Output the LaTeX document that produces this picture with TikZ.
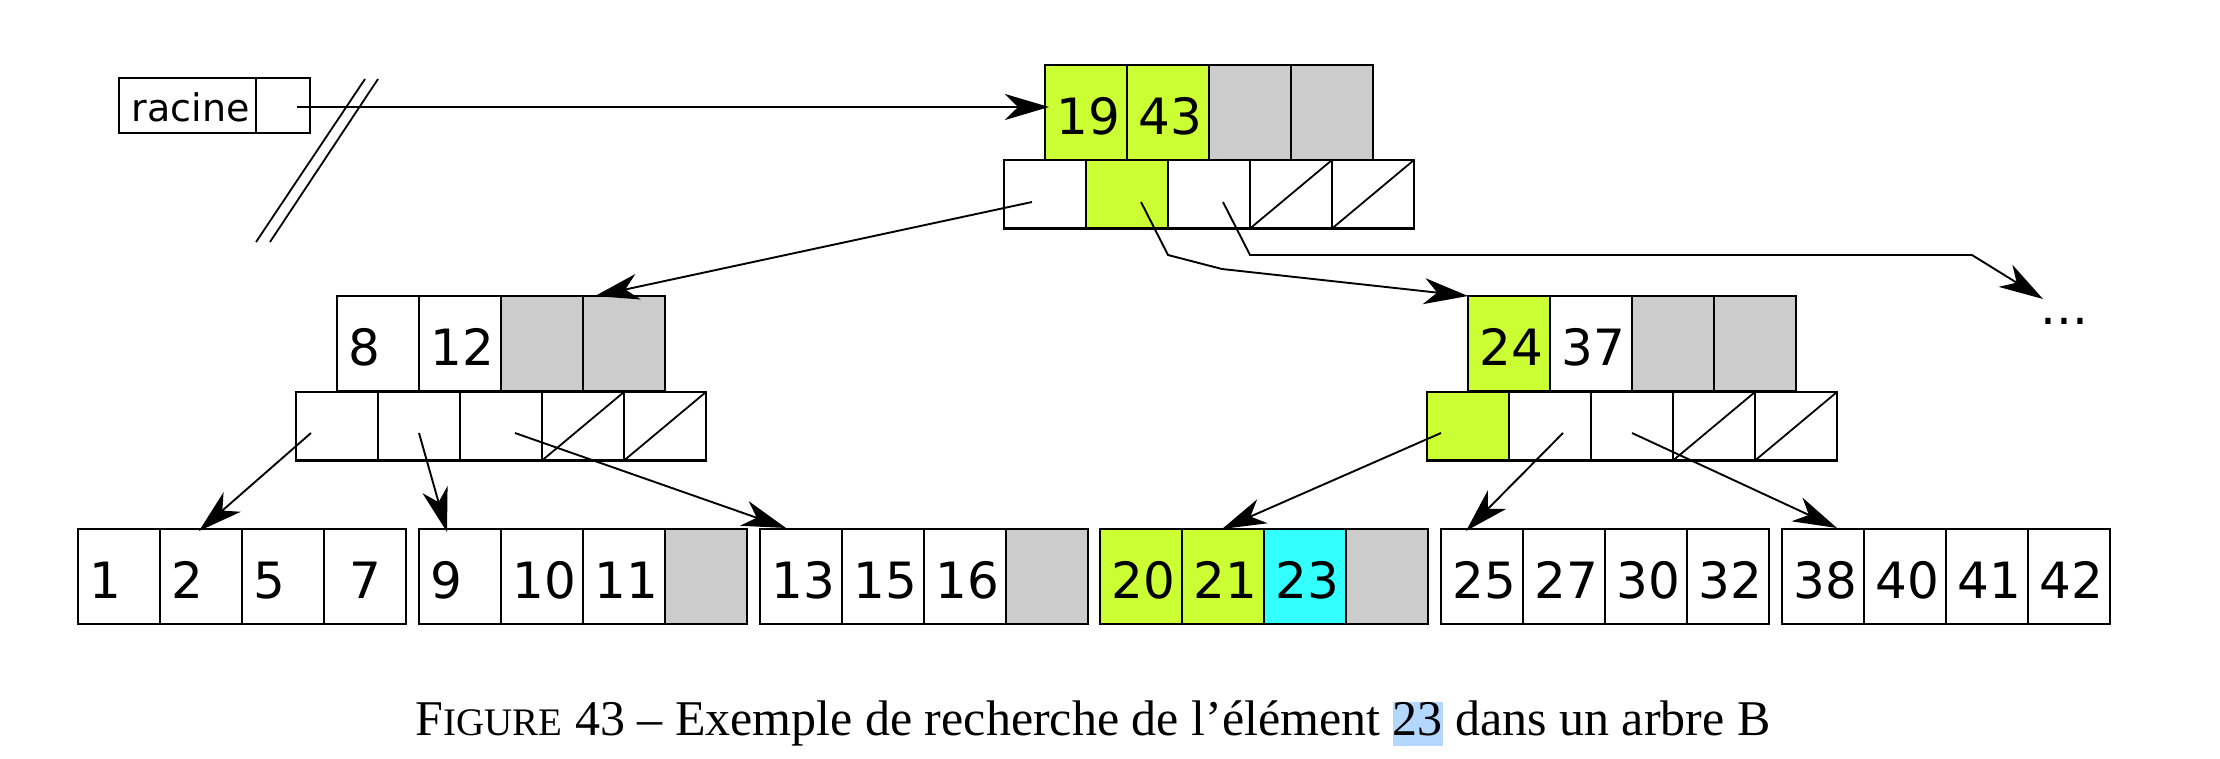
\documentclass[tikz,border=0pt]{standalone}
\usepackage{fontspec}
\setmainfont{Liberation Serif}
\newfontfamily\dejavu{DejaVu Sans}
\usetikzlibrary{arrows.meta,calc}
\definecolor{bgreen}{HTML}{CCFF33}
\definecolor{bgrey}{HTML}{CCCCCC}
\definecolor{bcyan}{HTML}{33FFFF}
\definecolor{bhl}{HTML}{B4D7FF}
\newcommand\keyrow[4]{%
  \foreach [count=\i] \f/\t in {#4} {%
    \node[kcell, fill=\f] (#1k\i) at ({#2+82*(\i-1)},#3) {};
    \node[num] (#1t\i) at ($(#1k\i.north west)+(11.5,69.5)$) {\t};
  }}
\newcommand\ptrrow[4]{%
  \foreach [count=\i] \f in {#4} {%
    \node[pcell, fill=\f] (#1p\i) at ({#2+82*(\i-1)},#3) {};
  }
  \draw[diag] (#1p4.south west) -- (#1p4.north east);
  \draw[diag] (#1p5.south west) -- (#1p5.north east);}
\begin{document}
\begin{tikzpicture}[x=1pt,y=-1pt,
  kcell/.style={draw, line width=2.2pt, minimum width=82pt, minimum height=95pt,
    inner sep=0pt, outer sep=0pt, anchor=north west},
  pcell/.style={kcell, minimum height=68.5pt},
  num/.style={font=\dejavu\fontsize{50}{60}\selectfont, inner sep=0pt, anchor=base west},
  diag/.style={line width=1.8pt},
  ptr/.style={line width=1.9pt, -{Stealth[length=44pt,width=26pt,inset=13pt]}},
  bar/.style={line width=1.8pt}]
\useasboundingbox (0,0) rectangle (2220,758);

% racine
\node[kcell, minimum width=137pt, minimum height=55pt] (rac) at (119,78) {};
\node[kcell, minimum width=54pt, minimum height=55pt] (racp) at (256,78) {};
\node[font=\dejavu\fontsize{38}{46}\selectfont, inner sep=0pt, anchor=base west] (ract) at (131.5,121) {racine};

% root
\keyrow{r}{1045}{65}{bgreen/19,bgreen/43,bgrey/{},bgrey/{}}
\ptrrow{r}{1004}{160}{white,bgreen,white,white,white}
% internal nodes
\keyrow{l}{337}{296}{white/8,white/12,bgrey/{},bgrey/{}}
\ptrrow{l}{296}{392}{white,white,white,white,white}
\keyrow{m}{1468}{296}{bgreen/24,white/37,bgrey/{},bgrey/{}}
\ptrrow{m}{1427}{392}{bgreen,white,white,white,white}
% leaves
\keyrow{a}{78}{529}{white/1,white/2,white/5,white/{\hspace*{13.5pt}7}}
\keyrow{b}{419}{529}{white/9,white/10,white/11,bgrey/{}}
\keyrow{c}{760}{529}{white/13,white/15,white/16,bgrey/{}}
\keyrow{d}{1100}{529}{bgreen/20,bgreen/21,bcyan/23,bgrey/{}}
\keyrow{e}{1441}{529}{white/25,white/27,white/30,white/32}
\keyrow{f}{1782}{529}{white/38,white/40,white/41,white/42}

% double slash
\coordinate (sa1) at (365,79); \coordinate (sa2) at (256,242);
\coordinate (sb1) at (378,79); \coordinate (sb2) at (270,242);
\draw[bar] (sa1) -- (sa2);
\draw[bar] (sb1) -- (sb2);

% connector end points
\coordinate (c0) at (297,107);  \coordinate (t0) at (1049,107);
\coordinate (c1) at (1032,202); \coordinate (t1) at (595,296);
\coordinate (c2) at (1141,202); \coordinate (t2) at (1468,296);
\coordinate (c3) at (1223,202); \coordinate (t3) at (2043,299);
\coordinate (c4) at (311,433);  \coordinate (t4) at (199,531);
\coordinate (c5) at (419,433);  \coordinate (t5) at (447,532);
\coordinate (c6) at (515,433);  \coordinate (t6) at (786,528);
\coordinate (c7) at (1441,433); \coordinate (t7) at (1222,529);
\coordinate (c8) at (1563,433); \coordinate (t8) at (1466,531);
\coordinate (c9) at (1632,433); \coordinate (t9) at (1837,528);

\draw[ptr] (c0) -- (t0);
\draw[ptr] (c1) -- (t1);
\draw[ptr] (c2) -- (1168,255) -- (1222,269) -- (t2);
\draw[ptr] (c3) -- (1250,255) -- (1972,255) -- (t3);
\draw[ptr] (c4) -- (t4);
\draw[ptr] (c5) -- (t5);
\draw[ptr] (c6) -- (t6);
\draw[ptr] (c7) -- (t7);
\draw[ptr] (c8) -- (t8);
\draw[ptr] (c9) -- (t9);

\node[num] (dots) at (2040,324) {...};

% caption
\node[inner sep=0pt, anchor=base] (cap) at (1093,735) {\fontsize{50}{60}\selectfont
  F{\fontsize{39}{47}\selectfont IGURE} 43 – Exemple de recherche de l’élément
  {\setlength{\fboxsep}{0pt}\colorbox{bhl}{\rule[-11pt]{0pt}{44pt}23}} dans un arbre B};
\end{tikzpicture}
\end{document}
